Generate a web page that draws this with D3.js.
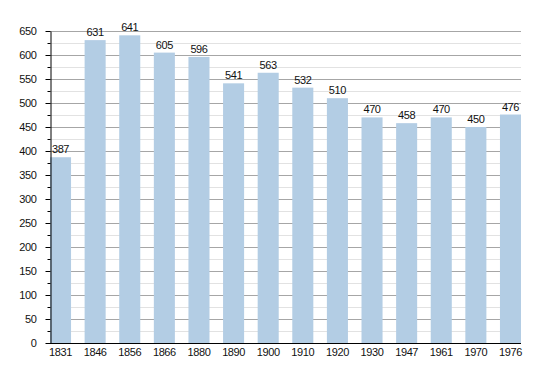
<!DOCTYPE html>
<html>
<head>
<meta charset="utf-8">
<script src="https://cdn.jsdelivr.net/npm/d3@7"></script>
<style>
  body { margin: 0; background: #fff; }
  text { font-family: "Liberation Sans", Arial, sans-serif; font-size: 11px; letter-spacing: -0.4px; fill: #111; }
</style>
</head>
<body>
<div id="chart"></div>
<script>
const years = ["1831", "1846", "1856", "1866", "1880", "1890", "1900", "1910", "1920", "1930", "1947", "1961", "1970", "1976"];
const population = [387, 631, 641, 605, 596, 541, 563, 532, 510, 470, 458, 470, 450, 476];
const yTicks = d3.range(0, 651, 50);
const yMinor = d3.range(25, 651, 50);

const width = 550;
const height = 373;
const margin = {t: 31, b: 30, l: 50, r: 29};

const svg = d3.select("#chart")
    .append("svg")
    .attr("width", width)
    .attr("height", height);

const yScale = d3.scaleLinear()
    .domain([0, 650])
    .range([height - margin.b, margin.t]);

const xScale = d3.scaleBand()
    .domain(years)
    .range([margin.l, width - margin.r])
    .paddingInner(0.392)
    .paddingOuter(0);

// grid
svg.append("g")
    .selectAll("line")
    .data(yMinor)
    .join("line")
    .attr("x1", margin.l)
    .attr("x2", width - margin.r)
    .attr("y1", d => Math.round(yScale(d)) + 0.5)
    .attr("y2", d => Math.round(yScale(d)) + 0.5)
    .style("stroke", "#e2e2e2");

svg.append("g")
    .selectAll("line")
    .data(yTicks.slice(1))
    .join("line")
    .attr("x1", margin.l)
    .attr("x2", width - margin.r)
    .attr("y1", d => Math.round(yScale(d)) + 0.5)
    .attr("y2", d => Math.round(yScale(d)) + 0.5)
    .style("stroke", "#a6a6a6");

// bars
svg.append("g")
    .selectAll("rect")
    .data(population)
    .join("rect")
    .attr("x", (d, i) => xScale(years[i]))
    .attr("y", d => yScale(d))
    .attr("width", xScale.bandwidth())
    .attr("height", d => yScale(0) - yScale(d))
    .style("fill", "#b3cde4");

// value labels
svg.append("g")
    .selectAll("text")
    .data(population)
    .join("text")
    .attr("x", (d, i) => xScale(years[i]) + xScale.bandwidth() / 2)
    .attr("y", d => yScale(d) - 4)
    .attr("text-anchor", "middle")
    .text(d => d);

// y axis
const yAxis = d3.axisLeft(yScale)
    .tickValues(yTicks)
    .tickSize(5)
    .tickPadding(9)
    .tickSizeOuter(0);
const yg = svg.append("g")
    .attr("transform", `translate(${margin.l + 0.5}, 0)`)
    .call(yAxis)
    .attr("font-size", null)
    .attr("font-family", null);
yg.selectAll("line, path").style("stroke", "#000");

svg.append("g")
    .attr("transform", `translate(${margin.l + 0.5}, 0)`)
    .call(d3.axisLeft(yScale).tickValues(yMinor).tickSize(3).tickFormat("").tickSizeOuter(0))
    .call(g => g.select(".domain").remove())
    .selectAll("line").style("stroke", "#000");

// x axis
const xg = svg.append("g")
    .attr("transform", `translate(0, ${yScale(0) + 0.5})`)
    .call(d3.axisBottom(xScale).tickSize(0).tickPadding(5).tickSizeOuter(0))
    .attr("font-size", null)
    .attr("font-family", null);
xg.select(".domain").style("stroke", "#000").attr("d", `M${margin.l},0H${width - margin.r}`);
</script>
</body>
</html>
